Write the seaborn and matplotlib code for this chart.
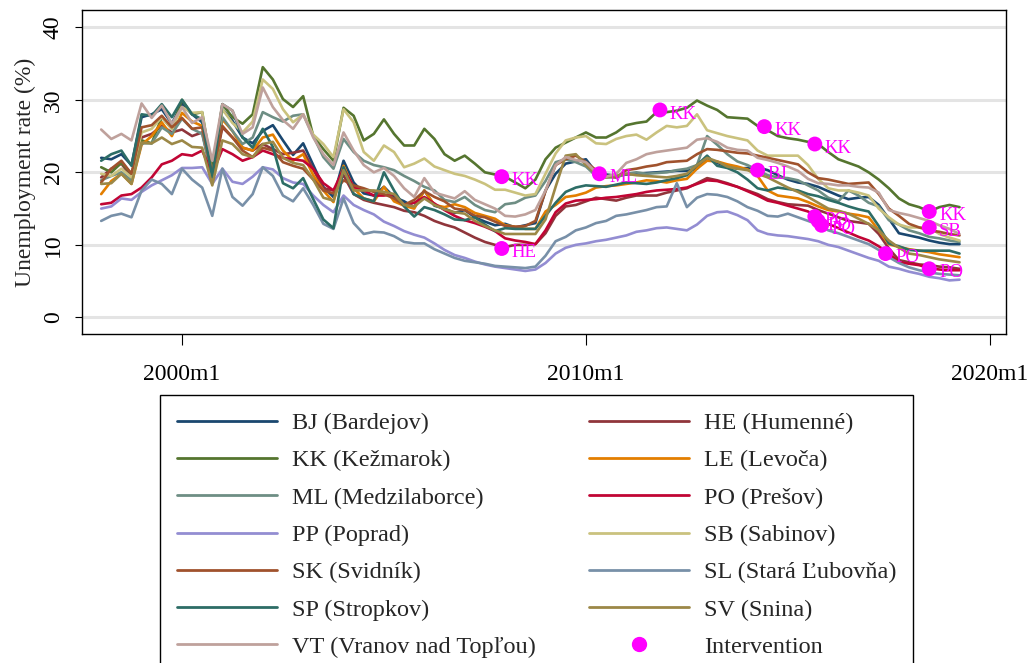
import numpy as np
import pandas as pd
import matplotlib
matplotlib.use("Agg")
import matplotlib.pyplot as plt
from matplotlib.lines import Line2D
import seaborn as sns

# Quarterly observation dates (Jan, Apr, Jul, Oct), 1998m1 - 2019m4
months = pd.date_range("1998-01-01", "2019-04-01", freq="QS")

regions = ["BJ", "HE", "KK", "LE", "ML", "PO", "PP", "SB", "SK", "SL", "SP", "SV", "VT"]
region_names = ["Bardejov", "Humenné", "Kežmarok", "Levoča", "Medzilaborce", "Prešov",
                "Poprad", "Sabinov", "Svidník", "Stará Ľubovňa", "Stropkov", "Snina",
                "Vranov nad Topľou"]
colors = ["#1a476f", "#90353b", "#55752f", "#e37e00", "#6e8e84", "#c10534", "#938dd2",
          "#cac27e", "#a0522d", "#7890a8", "#2d6d66", "#9c8847", "#bfa19c"]

# Unemployment rate (%) by district
BJ = [22.0, 21.8, 22.5, 21.0, 27.6, 28.0, 28.7, 26.7, 29.5, 28.0, 26.9, 19.8,
      28.7, 27.1, 24.8, 24.0, 25.7, 26.5, 24.4, 22.4, 24.0, 21.0, 18.0, 16.6,
      21.6, 18.6, 17.1, 16.8, 18.0, 16.6, 16.0, 15.2, 17.5, 15.4, 15.0, 14.4,
      14.8, 13.8, 13.2, 12.7, 12.9, 12.4, 12.7, 13.0, 17.5, 19.8, 21.2, 21.5,
      21.8, 20.0, 19.7, 19.5, 19.7, 19.8, 19.9, 20.0, 20.1, 20.2, 20.2, 20.5,
      22.0, 21.3, 20.8, 20.5, 20.6, 20.7, 20.3, 19.6, 19.0, 18.6, 18.4, 18.0,
      17.4, 16.8, 16.3, 16.5, 16.6, 15.5, 13.6, 11.6, 11.3, 11.0, 10.6, 10.3,
      10.1, 10.1]
HE = [19.3, 20.5, 21.2, 19.3, 24.8, 25.3, 26.4, 25.5, 25.9, 25.0, 25.5, 19.3,
      26.2, 24.8, 23.4, 23.0, 23.9, 23.2, 22.5, 22.7, 23.0, 20.4, 17.8, 17.5,
      19.6, 17.0, 16.2, 15.8, 15.5, 15.2, 14.7, 14.5, 14.0, 13.3, 12.8, 12.4,
      11.7, 11.0, 10.4, 10.0, 9.7, 10.0, 10.0, 10.1, 11.6, 14.0, 15.3, 15.5,
      16.0, 16.5, 16.3, 16.1, 16.5, 16.8, 16.8, 16.8, 17.2, 17.5, 17.8, 18.5,
      19.2, 18.9, 18.5, 18.0, 17.5, 17.0, 16.3, 15.9, 15.6, 15.5, 15.4, 14.8,
      14.3, 13.8, 13.3, 13.1, 12.9, 11.5, 9.5, 7.9, 7.6, 7.3, 7.2, 7.0,
      6.9, 6.7]
KK = [20.7, 20.0, 21.3, 19.8, 24.4, 24.0, 27.6, 26.0, 30.0, 28.0, 28.3, 20.2,
      29.4, 27.6, 26.7, 28.0, 34.5, 32.8, 30.1, 29.0, 30.5, 25.0, 23.2, 21.6,
      28.9, 27.8, 24.4, 25.3, 27.3, 25.3, 23.7, 23.7, 26.0, 24.6, 22.5, 21.6,
      22.3, 21.2, 20.0, 19.7, 19.4, 18.6, 17.8, 19.0, 21.8, 23.4, 24.1, 24.8,
      25.5, 24.8, 24.8, 25.5, 26.5, 26.8, 27.0, 28.3, 28.3, 28.5, 28.9, 29.9,
      29.2, 28.6, 27.6, 27.5, 27.4, 26.4, 25.8, 25.0, 24.7, 24.5, 24.2, 23.9,
      22.8, 21.8, 21.3, 20.8, 20.0, 19.0, 17.8, 16.4, 15.6, 15.2, 14.6, 15.2,
      15.5, 15.2]
LE = [17.0, 18.8, 19.8, 18.4, 23.8, 25.0, 26.9, 25.0, 28.2, 27.0, 26.4, 18.9,
      27.3, 25.7, 23.4, 23.0, 24.8, 25.2, 23.0, 21.6, 22.5, 19.6, 17.5, 15.9,
      20.9, 17.8, 16.4, 16.0, 18.0, 16.0, 15.4, 15.0, 17.5, 15.5, 15.2, 15.6,
      15.2, 14.4, 14.0, 13.6, 12.7, 12.5, 12.2, 12.2, 14.6, 15.5, 16.6, 16.8,
      17.2, 17.9, 18.1, 18.2, 18.4, 18.6, 18.9, 18.8, 18.6, 18.9, 19.1, 20.5,
      21.6, 21.5, 21.1, 20.8, 20.4, 19.5, 17.5, 16.8, 16.6, 16.4, 15.9, 15.3,
      14.8, 14.6, 14.3, 14.1, 13.8, 12.0, 10.1, 9.7, 9.4, 9.2, 9.0, 8.7,
      8.5, 8.3]
ML = [18.9, 19.5, 20.0, 18.9, 24.0, 24.0, 26.2, 25.3, 27.4, 26.0, 25.3, 19.3,
      27.6, 25.7, 23.9, 24.8, 28.3, 27.6, 27.0, 27.8, 28.0, 25.0, 22.1, 20.5,
      24.6, 22.8, 21.6, 21.0, 20.7, 20.3, 19.5, 18.8, 18.0, 17.5, 16.2, 15.9,
      16.6, 15.5, 14.8, 14.5, 15.6, 15.8, 16.5, 16.8, 18.8, 21.4, 21.8, 21.4,
      20.8, 19.5, 19.3, 19.3, 19.8, 20.0, 19.8, 19.9, 20.0, 20.3, 20.5, 21.0,
      25.0, 23.8, 22.5, 21.5, 21.0, 20.3, 19.6, 19.3, 19.2, 18.9, 18.2, 17.5,
      16.5, 16.0, 17.5, 16.8, 15.8, 15.3, 13.4, 12.8, 12.0, 11.6, 11.1, 10.9,
      10.6, 10.4]
PO = [15.6, 15.8, 16.8, 17.0, 17.9, 19.3, 21.1, 21.6, 22.5, 22.3, 23.0, 19.8,
      23.2, 22.5, 21.6, 22.1, 23.0, 22.5, 22.0, 21.8, 21.6, 20.5, 18.5, 17.5,
      20.5, 18.0, 17.5, 16.8, 16.8, 17.0, 15.5, 15.8, 16.6, 15.7, 14.8, 14.0,
      13.4, 13.0, 12.5, 11.9, 10.9, 10.6, 10.4, 10.1, 12.0, 14.5, 15.7, 16.1,
      16.2, 16.3, 16.5, 16.6, 16.8, 17.0, 17.3, 17.5, 17.6, 17.7, 17.9, 18.4,
      18.9, 18.8, 18.4, 18.0, 17.4, 16.8, 16.1, 15.8, 15.4, 15.0, 14.6, 13.6,
      12.9, 12.3, 11.7, 11.1, 10.6, 9.8, 8.8, 7.6, 7.4, 7.2, 6.8, 6.6,
      6.5, 6.5]
PP = [15.0, 15.3, 16.4, 16.2, 17.3, 18.2, 18.9, 19.6, 20.6, 20.6, 20.7, 18.4,
      20.5, 18.7, 18.4, 19.4, 20.7, 20.4, 19.2, 18.6, 18.4, 16.8, 15.5, 14.5,
      16.8, 15.5, 14.8, 14.2, 13.2, 12.6, 11.9, 11.4, 11.0, 10.2, 9.3, 8.6,
      8.2, 7.7, 7.3, 7.0, 6.8, 6.6, 6.4, 6.6, 7.5, 8.8, 9.6, 10.0,
      10.2, 10.5, 10.7, 11.0, 11.3, 11.8, 12.0, 12.3, 12.4, 12.2, 12.0, 12.8,
      14.0, 14.5, 14.6, 14.1, 13.4, 12.0, 11.5, 11.3, 11.2, 11.0, 10.8, 10.5,
      10.0, 9.7, 9.2, 8.7, 8.2, 7.8, 7.0, 6.7, 6.3, 6.0, 5.6, 5.4,
      5.1, 5.2]
SB = [19.8, 19.5, 20.5, 19.3, 25.5, 26.0, 27.6, 26.0, 29.0, 28.2, 28.3, 19.3,
      28.7, 26.8, 25.5, 27.0, 32.8, 31.5, 28.7, 26.9, 28.0, 25.2, 23.9, 22.1,
      28.7, 26.9, 22.8, 21.6, 23.7, 22.8, 20.7, 21.2, 21.9, 20.8, 20.3, 19.8,
      19.5, 19.0, 18.4, 17.6, 17.6, 17.2, 16.8, 17.0, 19.8, 22.6, 24.4, 24.8,
      25.0, 24.0, 23.9, 24.6, 25.0, 25.2, 24.5, 25.5, 26.4, 26.2, 26.4, 28.0,
      25.8, 25.4, 25.0, 24.7, 24.4, 23.0, 22.3, 22.3, 22.3, 22.3, 21.0, 19.1,
      17.8, 17.5, 17.5, 17.2, 16.8, 15.0, 13.8, 12.8, 12.4, 12.4, 12.4, 11.5,
      11.0, 10.6]
SK = [18.6, 20.5, 21.6, 19.8, 26.2, 26.5, 27.8, 26.2, 27.5, 26.0, 26.2, 19.8,
      26.4, 24.8, 23.0, 22.1, 23.4, 23.0, 21.4, 20.9, 20.5, 19.0, 17.5, 17.1,
      18.9, 18.2, 17.8, 17.3, 17.0, 16.4, 15.5, 16.2, 17.4, 16.6, 16.0, 15.0,
      14.8, 14.0, 13.8, 13.2, 12.6, 12.5, 12.6, 13.3, 17.4, 21.0, 21.8, 22.3,
      21.4, 20.3, 19.5, 19.3, 20.3, 20.5, 20.8, 21.0, 21.4, 21.5, 21.6, 22.5,
      23.2, 23.1, 22.9, 22.7, 22.6, 22.3, 22.0, 21.7, 21.4, 21.1, 20.0, 19.2,
      19.0, 18.7, 18.4, 18.5, 18.6, 17.0, 15.0, 14.0, 12.9, 12.4, 12.0, 11.8,
      11.5, 11.3]
SL = [13.3, 14.0, 14.3, 13.8, 17.5, 19.0, 18.4, 17.0, 20.5, 19.0, 17.9, 14.0,
      20.5, 16.6, 15.4, 17.0, 20.7, 19.5, 16.8, 16.0, 17.8, 15.5, 12.9, 12.2,
      16.4, 13.0, 11.5, 11.8, 11.7, 11.2, 10.4, 10.2, 10.2, 9.4, 8.8, 8.2,
      7.8, 7.6, 7.4, 7.1, 7.0, 6.9, 6.8, 7.0, 8.5, 10.5, 11.1, 12.0,
      12.4, 13.0, 13.3, 14.0, 14.2, 14.5, 14.8, 15.2, 15.3, 18.5, 15.2, 16.5,
      17.0, 16.9, 16.6, 16.0, 15.2, 14.7, 14.0, 13.9, 14.3, 13.8, 13.3, 12.8,
      12.0, 11.6, 11.1, 10.6, 10.1, 9.3, 8.3, 7.5, 6.9, 6.5, 6.2, 6.0,
      5.9, 5.8]
SP = [21.6, 22.5, 23.0, 20.9, 28.0, 27.8, 29.4, 27.6, 30.0, 28.0, 27.3, 19.3,
      29.4, 28.5, 24.8, 23.4, 26.0, 23.5, 18.5, 17.8, 19.2, 16.3, 13.5, 12.3,
      20.7, 17.0, 16.4, 16.0, 20.0, 17.5, 15.3, 13.9, 15.2, 14.8, 14.2, 13.5,
      13.4, 13.8, 12.8, 11.9, 12.3, 12.2, 12.2, 12.2, 14.0, 15.8, 17.3, 17.9,
      18.2, 18.1, 18.0, 18.3, 18.6, 18.5, 18.4, 18.6, 18.9, 19.2, 19.6, 21.0,
      22.3, 20.9, 20.6, 20.0, 19.0, 17.8, 17.5, 17.9, 17.7, 17.5, 17.0, 16.7,
      16.2, 15.8, 15.3, 14.9, 14.6, 12.6, 10.2, 9.8, 9.3, 9.2, 9.2, 9.2,
      9.2, 8.8]
SV = [18.4, 18.5, 19.8, 18.4, 24.1, 24.0, 24.8, 23.9, 24.4, 23.5, 23.4, 18.2,
      24.4, 23.9, 22.5, 22.1, 23.9, 24.2, 22.0, 21.3, 21.0, 19.0, 16.5, 16.1,
      20.3, 17.5, 17.5, 17.5, 17.3, 17.0, 15.5, 15.3, 16.4, 15.5, 14.9, 14.5,
      14.3, 13.3, 12.6, 12.0, 11.5, 11.5, 11.5, 11.5, 13.5, 18.0, 22.3, 22.5,
      21.0, 19.8, 19.3, 19.5, 19.8, 19.6, 19.5, 19.4, 19.3, 19.5, 19.8, 21.0,
      22.0, 21.5, 20.8, 20.5, 20.3, 19.8, 19.3, 18.6, 17.9, 17.3, 16.6, 15.8,
      15.0, 14.7, 14.3, 13.6, 12.9, 12.0, 10.6, 9.6, 8.8, 8.6, 8.3, 8.0,
      7.8, 7.6]
VT = [25.9, 24.6, 25.3, 24.4, 29.5, 27.5, 29.2, 26.7, 29.0, 26.8, 27.6, 21.6,
      29.4, 28.5, 25.3, 26.2, 31.7, 29.0, 27.2, 26.0, 28.0, 24.8, 22.5, 21.0,
      25.5, 23.0, 21.0, 20.0, 20.6, 19.5, 17.8, 16.6, 19.2, 17.2, 16.8, 16.4,
      17.4, 16.2, 15.6, 15.0, 14.0, 13.9, 14.2, 14.8, 17.5, 21.0, 22.1, 21.7,
      21.4, 20.0, 19.4, 19.8, 21.3, 21.8, 22.5, 22.8, 23.0, 23.2, 23.4, 24.5,
      24.7, 24.2, 23.4, 23.1, 23.0, 22.0, 21.7, 21.3, 20.8, 20.2, 19.1, 18.5,
      18.4, 18.2, 18.2, 18.0, 17.9, 17.2, 14.8, 14.4, 14.1, 13.7, 13.3, 12.7,
      12.2, 11.5]

# Labour-market interventions: district, month, unemployment rate at that month
intervention_region = ["KK", "HE", "ML", "KK", "BJ", "KK", "KK", "PO", "PO", "PO",
                       "PO", "KK", "SB", "PO"]
intervention_month = ["2007-12", "2007-12", "2010-05", "2011-11", "2014-04", "2014-06",
                      "2015-09", "2015-09", "2015-10", "2015-11", "2017-06", "2018-07",
                      "2018-07", "2018-07"]
intervention_value = [19.4, 9.5, 19.8, 28.6, 20.3, 26.3, 23.9, 13.9, 13.3, 12.7,
                      8.8, 14.6, 12.4, 6.7]

xticks = [2000, 2010, 2020]
xtick_labels = ["2000m1", "2010m1", "2020m1"]
yticks = [0, 10, 20, 30, 40]


def decimal_month(d):
    return d.year + (d.month - 1) / 12.0


series = dict(BJ=BJ, HE=HE, KK=KK, LE=LE, ML=ML, PO=PO, PP=PP, SB=SB, SK=SK,
              SL=SL, SP=SP, SV=SV, VT=VT)
wide = pd.DataFrame(series, index=[decimal_month(d) for d in months])
wide.index.name = "t"
df = wide.reset_index().melt(id_vars="t", var_name="region", value_name="rate")

iv = pd.DataFrame({
    "region": intervention_region,
    "t": [decimal_month(pd.Timestamp(m + "-01")) for m in intervention_month],
    "rate": intervention_value,
})

sns.set_style("white")
plt.rcParams["font.family"] = ["Liberation Serif", "DejaVu Serif"]

W, H = 1031, 663
fig = plt.figure(figsize=(W / 100, H / 100), dpi=100)
ax = fig.add_axes([82 / W, 1 - 334 / H, 924 / W, 324 / H])

sns.lineplot(data=df, x="t", y="rate", hue="region", hue_order=regions,
             palette=colors, estimator=None, linewidth=1.9, legend=False, ax=ax)
sns.scatterplot(data=iv, x="t", y="rate", color="#ff00ff", s=115, edgecolor="none",
                linewidth=0, legend=False, ax=ax, zorder=5)
for r, t, v in zip(iv["region"], iv["t"], iv["rate"]):
    ax.annotate(r, (t, v), xytext=(7, -3), textcoords="offset points",
                color="#ff00ff", fontsize=13.5, ha="left", va="center", zorder=6)

ax.set_xlim(1997.525, 2020.40)
ax.set_ylim(-2.29, 42.38)
ax.set_xticks(xticks)
ax.set_xticklabels(xtick_labels)
ax.set_yticks(yticks)
ax.set_yticklabels([str(v) for v in yticks])
ax.yaxis.grid(True, color="#e4e4e4", linewidth=2.2)
ax.xaxis.grid(False)
ax.set_axisbelow(True)
for s in ax.spines.values():
    s.set_color("black")
    s.set_linewidth(1.0)

ax.tick_params(axis="x", direction="out", length=8, width=0.8, pad=13.5,
               labelsize=17, colors="black", bottom=True)
ax.tick_params(axis="y", direction="out", length=5, width=0.8, pad=8,
               labelsize=17, colors="black", left=True, labelrotation=90)
for lab in ax.get_yticklabels():
    lab.set_va("center")

ax.set_xlabel("")
ax.set_ylabel("Unemployment rate (%)", fontsize=17)
ax.yaxis.set_label_coords(-0.050, 0.5)

handles, labels = [], []
order = [0, 2, 4, 6, 8, 10, 12, 1, 3, 5, 7, 9, 11]
for i in order:
    handles.append(Line2D([], [], color=colors[i], linewidth=2.0))
    labels.append(f"{regions[i]} ({region_names[i]})")
handles.append(Line2D([], [], color="#ff00ff", marker="o", linestyle="none",
                      markersize=10))
labels.append("Intervention")

leg = fig.legend(handles, labels, ncol=2, loc="upper left",
                 bbox_to_anchor=(160 / W, 1 - 395 / H), bbox_transform=fig.transFigure,
                 frameon=True, fancybox=False, edgecolor="black", framealpha=1,
                 fontsize=17.5, handlelength=4.1, handletextpad=0.62,
                 columnspacing=2.2, labelspacing=0.63, borderpad=0.7,
                 borderaxespad=0)
leg.get_frame().set_linewidth(1.0)

fig.savefig("out.png", dpi=100)
